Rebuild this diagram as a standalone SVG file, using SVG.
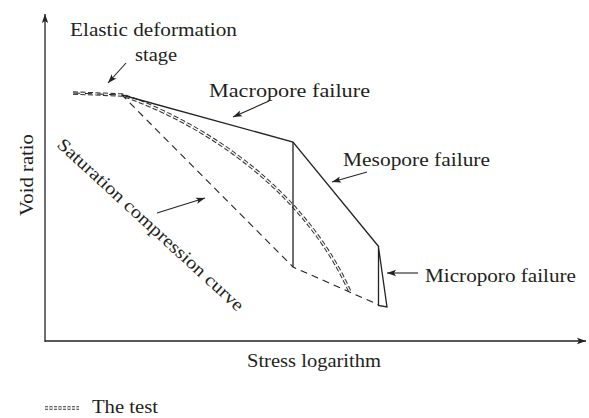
<svg xmlns="http://www.w3.org/2000/svg" width="589" height="418" viewBox="0 0 589 418">
<style>
.t{font-family:'Times New Roman','Liberation Serif','DejaVu Serif',serif;font-size:18px;fill:#231f20}
.ax{stroke:#222;stroke-width:1.3;fill:none}
.sol{stroke:#222;stroke-width:1.3;fill:none}
.dash{stroke:#222;stroke-width:1.1;fill:none;stroke-dasharray:7,5}
.dbl{stroke:#333;stroke-width:3.4;fill:none;stroke-dasharray:5,2.5}
.dblw{stroke:#fff;stroke-width:1.3;fill:none;stroke-dasharray:5,2.5}
.arr{stroke:#222;stroke-width:1.1;fill:none;marker-end:url(#ah)}
</style>
<defs>
<marker id="ah" markerUnits="userSpaceOnUse" markerWidth="10" markerHeight="8" refX="9" refY="4" orient="auto">
<path d="M0,0.8 L9,4 L0,7.2 L2,4 Z" fill="#222"/>
</marker>
</defs>
<g id="axes">
<path class="ax" d="M45,342 L45,14" marker-end="url(#ah)"/>
<path class="ax" d="M45,341 L586,341" marker-end="url(#ah)"/>
<text class="t" x="33" y="175" text-anchor="middle" transform="rotate(-90 33 175)" textLength="82" lengthAdjust="spacingAndGlyphs">Void ratio</text>
<text class="t" x="247" y="367" textLength="134" lengthAdjust="spacingAndGlyphs">Stress logarithm</text>
</g>
<g id="curves">
<path id="test-curve" class="dbl" d="M73,93 L122,95 C190,118 300,180 350,292"/>
<path class="dblw" d="M73,93 L122,95 C190,118 300,180 350,292"/>
<path id="saturation-curve" class="dash" d="M73,93 L122,95 L293,267 L379,305"/>
<path id="solid-curve" class="sol" d="M122,95 L293,142 L379,247"/>
<path class="sol" d="M293,142 L293,267"/>
<path class="sol" d="M378.5,247 L378.5,305.5 L387,307 Z"/>
</g>
<g id="connectors">
<path class="arr" d="M126,63 L108,83"/>
<path class="arr" d="M269,101 L233,117"/>
<path class="arr" d="M367,172 L332,182"/>
<path class="arr" d="M157,213 L205,198"/>
<path class="arr" d="M418,273 L387,273"/>
</g>
<g id="labels">
<text class="t" x="70" y="36" textLength="167" lengthAdjust="spacingAndGlyphs">Elastic deformation</text>
<text class="t" x="135" y="61" textLength="42" lengthAdjust="spacingAndGlyphs">stage</text>
<text class="t" x="209" y="97" textLength="161" lengthAdjust="spacingAndGlyphs">Macropore failure</text>
<text class="t" x="343" y="166" textLength="147" lengthAdjust="spacingAndGlyphs">Mesopore failure</text>
<text class="t" x="425" y="282" textLength="151" lengthAdjust="spacingAndGlyphs">Microporo failure</text>
<text class="t" x="56" y="146" transform="rotate(42.5 56 146)" textLength="246" lengthAdjust="spacingAndGlyphs">Saturation compression curve</text>
</g>
<g id="legend">
<path class="dbl" d="M45,408 L79,408" style="stroke-dasharray:3,1.5"/>
<path class="dblw" d="M45,408 L79,408" style="stroke-dasharray:3,1.5"/>
<text class="t" x="92" y="413" textLength="66" lengthAdjust="spacingAndGlyphs">The test</text>
</g>
</svg>
